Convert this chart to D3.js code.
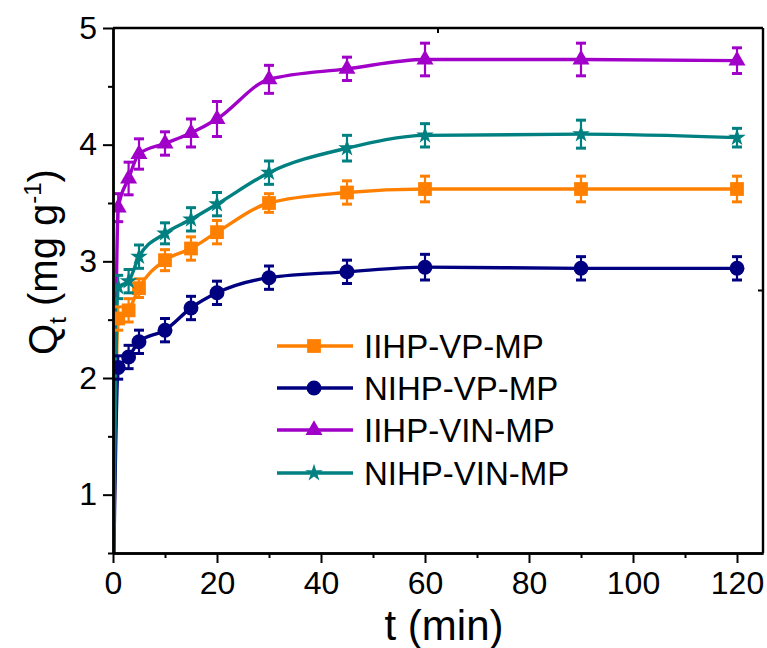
<!DOCTYPE html>
<html>
<head>
<meta charset="utf-8">
<script src="https://cdn.jsdelivr.net/npm/d3@7"></script>
<style>
  html, body { margin: 0; padding: 0; background: #fff; }
  svg { display: block; }
  text { font-family: "Liberation Sans", Arial, sans-serif; fill: #000; }
</style>
</head>
<body>
<svg id="chart" width="767" height="648"></svg>
<script>
// Adsorption time (min)
const times = [0, 1, 3, 5, 10, 15, 20, 30, 45, 60, 90, 120];

// Q_t (mg g^-1) for each sample, with standard deviations
const iihpVp    = [0, 2.51, 2.58, 2.77, 3.01, 3.11, 3.25, 3.50, 3.59, 3.62, 3.62, 3.62];
const iihpVpErr = [0, 0.10, 0.10, 0.08, 0.09, 0.10, 0.10, 0.08, 0.10, 0.11, 0.11, 0.11];

const nihpVp    = [0, 2.09, 2.18, 2.31, 2.41, 2.60, 2.73, 2.86, 2.91, 2.95, 2.94, 2.94];
const nihpVpErr = [0, 0.10, 0.10, 0.10, 0.10, 0.10, 0.10, 0.10, 0.10, 0.11, 0.10, 0.10];

const iihpVin    = [0, 3.46, 3.71, 3.92, 4.01, 4.10, 4.22, 4.56, 4.65, 4.73, 4.73, 4.72];
const iihpVinErr = [0, 0.12, 0.14, 0.13, 0.10, 0.12, 0.15, 0.12, 0.10, 0.14, 0.14, 0.11];

const nihpVin    = [0, 2.78, 2.83, 3.04, 3.24, 3.36, 3.49, 3.76, 3.97, 4.08, 4.09, 4.06];
const nihpVinErr = [0, 0.10, 0.10, 0.10, 0.09, 0.10, 0.10, 0.10, 0.11, 0.10, 0.12, 0.08];

const seriesNames = ["IIHP-VP-MP", "NIHP-VP-MP", "IIHP-VIN-MP", "NIHP-VIN-MP"];

// Axis ticks
const xMajorTicks = [0, 20, 40, 60, 80, 100, 120];
const xMinorTicks = [10, 30, 50, 70, 90, 110];
const yMajorTicks = [1, 2, 3, 4, 5];
const yMinorTicks = [0.5, 1.5, 2.5, 3.5, 4.5];
const topFrameTicks = [62.5];
const rightFrameTicks = [2.75];

const series = [
  { name: seriesNames[0], values: iihpVp,  errors: iihpVpErr,  color: "#FF8000", shape: "square" },
  { name: seriesNames[1], values: nihpVp,  errors: nihpVpErr,  color: "#000080", shape: "circle" },
  { name: seriesNames[2], values: iihpVin, errors: iihpVinErr, color: "#A100C9", shape: "triangle" },
  { name: seriesNames[3], values: nihpVin, errors: nihpVinErr, color: "#008080", shape: "star" }
];

const svg = d3.select("#chart");
const plotLeft = 113, plotRight = 763, plotTop = 28, plotBottom = 553;

const x = d3.scaleLinear().domain([0, 125]).range([plotLeft, plotRight]);
const y = d3.scaleLinear().domain([0.5, 5]).range([plotBottom, plotTop]);

const symbolTypes = {
  square:   { type: d3.symbolSquare,   size: 190 },
  circle:   { type: d3.symbolCircle,   size: 175 },
  triangle: { type: d3.symbolTriangle, size: 125 },
  star:     { type: d3.symbolStar,     size: 95 }
};
const symbolPath = shape =>
  d3.symbol().type(symbolTypes[shape].type).size(symbolTypes[shape].size)();

svg.append("defs").append("clipPath").attr("id", "plot-clip")
  .append("rect")
  .attr("x", plotLeft).attr("y", plotTop)
  .attr("width", plotRight - plotLeft).attr("height", plotBottom - plotTop);

const plot = svg.append("g").attr("clip-path", "url(#plot-clip)");

// Smooth connecting curves
const line = d3.line()
  .x(d => x(d.t))
  .y(d => y(d.q))
  .curve(d3.curveMonotoneX);

series.forEach(s => {
  s.points = times.map((t, i) => ({ t, q: s.values[i], e: s.errors[i] }));
});

series.forEach(s => {
  plot.append("path")
    .datum(s.points)
    .attr("d", line)
    .attr("fill", "none")
    .attr("stroke", s.color)
    .attr("stroke-width", 3.4)
    .attr("stroke-linejoin", "round");
});

// Error bars and markers
series.forEach(s => {
  const g = plot.append("g");
  const pts = s.points.filter(d => d.e > 0);
  const eb = g.selectAll(".eb").data(pts).join("g")
    .attr("stroke", s.color)
    .attr("stroke-width", 2.2);
  eb.append("line")
    .attr("x1", d => x(d.t)).attr("x2", d => x(d.t))
    .attr("y1", d => y(d.q + d.e)).attr("y2", d => y(d.q - d.e));
  eb.append("line")
    .attr("x1", d => x(d.t) - 5).attr("x2", d => x(d.t) + 5)
    .attr("y1", d => y(d.q + d.e)).attr("y2", d => y(d.q + d.e))
    .attr("stroke-width", 3);
  eb.append("line")
    .attr("x1", d => x(d.t) - 5).attr("x2", d => x(d.t) + 5)
    .attr("y1", d => y(d.q - d.e)).attr("y2", d => y(d.q - d.e))
    .attr("stroke-width", 3);

  g.selectAll(".mk").data(s.points).join("path")
    .attr("d", symbolPath(s.shape))
    .attr("transform", d => `translate(${x(d.t)},${y(d.q)})`)
    .attr("fill", s.color);
});

// Axes
const axisColor = "#000";
const xAxis = svg.append("g").attr("transform", `translate(0,${plotBottom})`)
  .call(d3.axisBottom(x).tickValues(xMajorTicks).tickSize(10).tickPadding(8).tickSizeOuter(0));
const xMinor = svg.append("g").attr("transform", `translate(0,${plotBottom})`)
  .call(d3.axisBottom(x).tickValues(xMinorTicks).tickSize(5).tickFormat("").tickSizeOuter(0));
const yAxis = svg.append("g").attr("transform", `translate(${plotLeft},0)`)
  .call(d3.axisLeft(y).tickValues(yMajorTicks).tickFormat(d3.format("d")).tickSize(10).tickPadding(6).tickSizeOuter(0));
const yMinor = svg.append("g").attr("transform", `translate(${plotLeft},0)`)
  .call(d3.axisLeft(y).tickValues(yMinorTicks).tickSize(5).tickFormat("").tickSizeOuter(0));

[xAxis, xMinor, yAxis, yMinor].forEach(a => {
  a.selectAll("path.domain").attr("stroke", axisColor).attr("stroke-width", 2.4);
  a.selectAll(".tick line").attr("stroke", axisColor).attr("stroke-width", 2);
  a.selectAll(".tick text").style("font-size", "32px").style("font-family", "'Liberation Sans', Arial, sans-serif").attr("fill", "#000");
});

// Frame on top and right
svg.append("line")
  .attr("x1", plotLeft).attr("x2", plotRight).attr("y1", plotTop).attr("y2", plotTop)
  .attr("stroke", axisColor).attr("stroke-width", 2.4);
svg.append("line")
  .attr("x1", plotRight).attr("x2", plotRight).attr("y1", plotTop).attr("y2", plotBottom)
  .attr("stroke", axisColor).attr("stroke-width", 2.4);
svg.selectAll(".topTick").data(topFrameTicks).join("line")
  .attr("x1", d => x(d)).attr("x2", d => x(d))
  .attr("y1", plotTop).attr("y2", plotTop + 5)
  .attr("stroke", axisColor).attr("stroke-width", 2);
svg.selectAll(".rightTick").data(rightFrameTicks).join("line")
  .attr("x1", plotRight - 5).attr("x2", plotRight)
  .attr("y1", d => y(d)).attr("y2", d => y(d))
  .attr("stroke", axisColor).attr("stroke-width", 2);

// Axis titles
svg.append("text")
  .attr("x", 444).attr("y", 640)
  .attr("text-anchor", "middle")
  .style("font-size", "42px")
  .text("t (min)");

const yTitle = svg.append("text")
  .attr("transform", "translate(57,262) rotate(-90)")
  .attr("text-anchor", "middle")
  .style("font-size", "40px");
yTitle.append("tspan").text("Q");
yTitle.append("tspan").attr("dy", 9).style("font-size", "24px").text("t");
yTitle.append("tspan").attr("dy", -9).text(" (mg g");
yTitle.append("tspan").attr("dy", -16).style("font-size", "24px").text("-1");
yTitle.append("tspan").attr("dy", 16).text(")");

// Legend
const legendRows = [346, 388, 430, 473];
const legend = svg.append("g");
series.forEach((s, i) => {
  const cy = legendRows[i];
  legend.append("line")
    .attr("x1", 277).attr("x2", 353).attr("y1", cy).attr("y2", cy)
    .attr("stroke", s.color).attr("stroke-width", 3.4);
  legend.append("path")
    .attr("d", symbolPath(s.shape))
    .attr("transform", `translate(314,${cy})`)
    .attr("fill", s.color);
  legend.append("text")
    .attr("x", 364).attr("y", cy + 12)
    .style("font-size", "33px")
    .text(s.name);
});
</script>
</body>
</html>
